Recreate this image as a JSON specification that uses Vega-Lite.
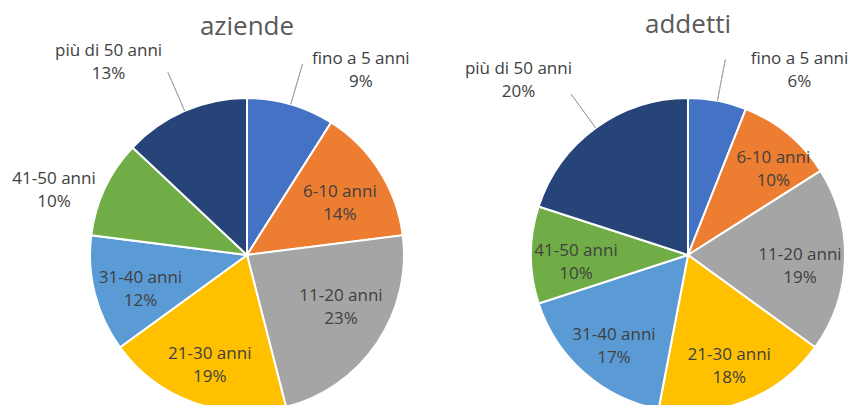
{
  "$schema": "https://vega.github.io/schema/vega-lite/v6.json",
  "background": "white",
  "padding": {"left": 12, "top": 12, "right": 0, "bottom": 0},
  "config": {"view": {"stroke": null}, "concat": {"spacing": 121}},
  "bounds": "flush",
  "data": {
    "values": [
      {"dataset": "aziende", "category": "fino a 5 anni", "value": 9},
      {"dataset": "aziende", "category": "6-10 anni", "value": 14},
      {"dataset": "aziende", "category": "11-20 anni", "value": 23},
      {"dataset": "aziende", "category": "21-30 anni", "value": 19},
      {"dataset": "aziende", "category": "31-40 anni", "value": 12},
      {"dataset": "aziende", "category": "41-50 anni", "value": 10},
      {"dataset": "aziende", "category": "più di 50 anni", "value": 13},
      {"dataset": "addetti", "category": "fino a 5 anni", "value": 6},
      {"dataset": "addetti", "category": "6-10 anni", "value": 10},
      {"dataset": "addetti", "category": "11-20 anni", "value": 19},
      {"dataset": "addetti", "category": "21-30 anni", "value": 18},
      {"dataset": "addetti", "category": "31-40 anni", "value": 17},
      {"dataset": "addetti", "category": "41-50 anni", "value": 10},
      {"dataset": "addetti", "category": "più di 50 anni", "value": 20}
    ]
  },
  "transform": [
    {"window": [{"op": "row_number", "as": "idx"}]},
    {"stack": "value", "groupby": ["dataset"], "sort": [{"field": "idx", "order": "ascending"}], "as": ["v0", "v1"]},
    {"calculate": "(datum.v0 + datum.v1) / 2", "as": "mid"},
    {"calculate": "[datum.category, datum.value + '%']", "as": "label"}
  ],
  "hconcat": [
    {
      "width": 320,
      "height": 314,
      "title": {"text": "aziende", "fontSize": 26, "color": "#595959", "font": "Open Sans", "fontWeight": "normal", "offset": 2},
      "transform": [{"filter": "datum.dataset === 'aziende'"}],
      "layer": [
        {
          "mark": {"type": "arc", "outerRadius": 157, "stroke": "white", "strokeWidth": 2},
          "encoding": {
            "theta": {"field": "v0", "type": "quantitative", "stack": null, "scale": {"domain": [0, 100]}},
            "theta2": {"field": "v1"},
            "color": {"field": "category", "type": "nominal", "legend": null,
              "scale": {"domain": ["fino a 5 anni", "6-10 anni", "11-20 anni", "21-30 anni", "31-40 anni", "41-50 anni", "più di 50 anni"],
                        "range": ["#4472C4", "#ED7D31", "#A5A5A5", "#FFC000", "#5B9BD5", "#70AD47", "#264478"]}}
          }
        },
        {
          "transform": [{"filter": {"field": "category", "oneOf": ["fino a 5 anni", "più di 50 anni"]}}],
          "mark": {"type": "arc", "innerRadius": 157, "outerRadius": 199, "stroke": "#a6a6a6", "strokeWidth": 1, "fill": "transparent"},
          "encoding": {
            "theta": {"field": "mid", "type": "quantitative", "stack": null, "scale": {"domain": [0, 100]}},
            "theta2": {"field": "mid"}
          }
        },
        {
          "transform": [{"filter": {"field": "category", "oneOf": ["6-10 anni", "21-30 anni", "31-40 anni"]}}],
          "mark": {"type": "text", "radius": 110, "dy": -4, "fontSize": 17, "font": "Open Sans", "color": "#404040", "lineHeight": 23},
          "encoding": {
            "theta": {"field": "mid", "type": "quantitative", "stack": null, "scale": {"domain": [0, 100]}},
            "text": {"field": "label"}
          }
        },
        {
          "transform": [{"filter": "datum.category === '11-20 anni'"}],
          "mark": {"type": "text", "radius": 110, "dx": 3, "dy": -21, "fontSize": 17, "font": "Open Sans", "color": "#404040", "lineHeight": 23},
          "encoding": {
            "theta": {"field": "mid", "type": "quantitative", "stack": null, "scale": {"domain": [0, 100]}},
            "text": {"field": "label"}
          }
        },
        {
          "transform": [{"filter": "datum.category === 'fino a 5 anni'"}],
          "mark": {"type": "text", "radius": 200, "dx": 58, "dy": -3.5, "fontSize": 17, "font": "Open Sans", "color": "#404040", "lineHeight": 23},
          "encoding": {
            "theta": {"field": "mid", "type": "quantitative", "stack": null, "scale": {"domain": [0, 100]}},
            "text": {"field": "label"}
          }
        },
        {
          "transform": [{"filter": "datum.category === 'più di 50 anni'"}],
          "mark": {"type": "text", "radius": 200, "dx": -59, "dy": -20.5, "fontSize": 17, "font": "Open Sans", "color": "#404040", "lineHeight": 23},
          "encoding": {
            "theta": {"field": "mid", "type": "quantitative", "stack": null, "scale": {"domain": [0, 100]}},
            "text": {"field": "label"}
          }
        },
        {
          "transform": [{"filter": "datum.category === '41-50 anni'"}],
          "mark": {"type": "text", "radius": 200, "dx": -12, "dy": 9.5, "fontSize": 17, "font": "Open Sans", "color": "#404040", "lineHeight": 23},
          "encoding": {
            "theta": {"field": "mid", "type": "quantitative", "stack": null, "scale": {"domain": [0, 100]}},
            "text": {"field": "label"}
          }
        }
      ]
    },
    {
      "width": 320,
      "height": 314,
      "title": {"text": "addetti", "fontSize": 26, "color": "#595959", "font": "Open Sans", "fontWeight": "normal", "offset": 12},
      "transform": [{"filter": "datum.dataset === 'addetti'"}],
      "layer": [
        {
          "mark": {"type": "arc", "outerRadius": 157, "stroke": "white", "strokeWidth": 2},
          "encoding": {
            "theta": {"field": "v0", "type": "quantitative", "stack": null, "scale": {"domain": [0, 100]}},
            "theta2": {"field": "v1"},
            "color": {"field": "category", "type": "nominal", "legend": null,
              "scale": {"domain": ["fino a 5 anni", "6-10 anni", "11-20 anni", "21-30 anni", "31-40 anni", "41-50 anni", "più di 50 anni"],
                        "range": ["#4472C4", "#ED7D31", "#A5A5A5", "#FFC000", "#5B9BD5", "#70AD47", "#264478"]}}
          }
        },
        {
          "transform": [{"filter": {"field": "category", "oneOf": ["fino a 5 anni", "più di 50 anni"]}}],
          "mark": {"type": "arc", "innerRadius": 157, "outerRadius": 199, "stroke": "#a6a6a6", "strokeWidth": 1, "fill": "transparent"},
          "encoding": {
            "theta": {"field": "mid", "type": "quantitative", "stack": null, "scale": {"domain": [0, 100]}},
            "theta2": {"field": "mid"}
          }
        },
        {
          "transform": [{"filter": {"field": "category", "oneOf": ["11-20 anni", "21-30 anni", "31-40 anni", "41-50 anni"]}}],
          "mark": {"type": "text", "radius": 112, "dy": -4, "fontSize": 17, "font": "Open Sans", "color": "#404040", "lineHeight": 23},
          "encoding": {
            "theta": {"field": "mid", "type": "quantitative", "stack": null, "scale": {"domain": [0, 100]}},
            "text": {"field": "label"}
          }
        },
        {
          "transform": [{"filter": "datum.category === '6-10 anni'"}],
          "mark": {"type": "text", "radius": 112, "dx": 14, "dy": -11, "fontSize": 17, "font": "Open Sans", "color": "#404040", "lineHeight": 23},
          "encoding": {
            "theta": {"field": "mid", "type": "quantitative", "stack": null, "scale": {"domain": [0, 100]}},
            "text": {"field": "label"}
          }
        },
        {
          "transform": [{"filter": "datum.category === 'fino a 5 anni'"}],
          "mark": {"type": "text", "radius": 200, "dx": 74, "dy": 0.5, "fontSize": 17, "font": "Open Sans", "color": "#404040", "lineHeight": 23},
          "encoding": {
            "theta": {"field": "mid", "type": "quantitative", "stack": null, "scale": {"domain": [0, 100]}},
            "text": {"field": "label"}
          }
        },
        {
          "transform": [{"filter": "datum.category === 'più di 50 anni'"}],
          "mark": {"type": "text", "radius": 200, "dx": -52, "dy": -24.5, "fontSize": 17, "font": "Open Sans", "color": "#404040", "lineHeight": 23},
          "encoding": {
            "theta": {"field": "mid", "type": "quantitative", "stack": null, "scale": {"domain": [0, 100]}},
            "text": {"field": "label"}
          }
        }
      ]
    }
  ]
}
